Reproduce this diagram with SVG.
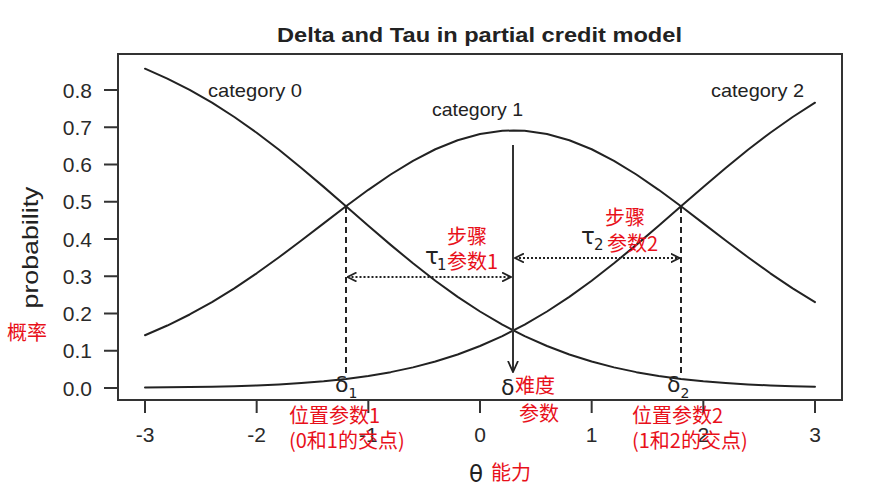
<svg xmlns="http://www.w3.org/2000/svg" width="889" height="500" viewBox="0 0 889 500">
<style>
  .lat{font-family:"Liberation Sans",Arial,sans-serif;fill:#222}
  .tick{font-family:"Liberation Sans",Arial,sans-serif;font-size:21px;fill:#2a2a2a}
  .red{font-family:"Noto Sans CJK SC","Noto Sans",sans-serif;font-size:20px;fill:#e8101a}
  .gr{font-family:"DejaVu Sans","Liberation Sans",sans-serif;fill:#222}
  .ax{stroke:#333;stroke-width:2;fill:none}
  .curve{stroke:#222;stroke-width:2;fill:none;stroke-linejoin:round;stroke-linecap:round}
  .dash{stroke:#222;stroke-width:2;stroke-dasharray:6,4;fill:none}
  .dot{stroke:#222;stroke-width:2;stroke-dasharray:2,2;fill:none}
</style>
<defs>
  <marker id="vhead" viewBox="0 0 10 10" refX="9" refY="5" markerWidth="10" markerHeight="10" markerUnits="userSpaceOnUse" orient="auto-start-reverse">
    <path d="M0,0.5 L9,5 L0,9.5" fill="none" stroke="#222" stroke-width="1.8"/>
  </marker>
  <marker id="bighead" viewBox="0 0 12 12" refX="11" refY="6" markerWidth="12" markerHeight="12" markerUnits="userSpaceOnUse" orient="auto">
    <path d="M0,1 L11,6 L0,11" fill="none" stroke="#222" stroke-width="1.8"/>
  </marker>
</defs>
<rect width="889" height="500" fill="#fff"/>

<text id="title" class="lat" x="479.5" y="41.5" font-size="21" font-weight="bold" text-anchor="middle" textLength="405" lengthAdjust="spacingAndGlyphs">Delta and Tau in partial credit model</text>

<g id="axes">
  <rect class="ax" x="118" y="54" width="724" height="346"/>
  <path class="ax" d="M104,388H118M104,350.75H118M104,313.5H118M104,276.25H118M104,239H118M104,201.75H118M104,164.5H118M104,127.25H118M104,90H118"/>
  <path class="ax" d="M145,400V413M256.67,400V413M368.33,400V413M480,400V413M591.67,400V413M703.33,400V413M815,400V413"/>
  <g class="tick" text-anchor="end">
    <text x="92" y="395.5">0.0</text>
    <text x="92" y="358.25">0.1</text>
    <text x="92" y="321">0.2</text>
    <text x="92" y="283.75">0.3</text>
    <text x="92" y="246.5">0.4</text>
    <text x="92" y="209.25">0.5</text>
    <text x="92" y="172">0.6</text>
    <text x="92" y="134.75">0.7</text>
    <text x="92" y="97.5">0.8</text>
  </g>
  <g class="tick" text-anchor="middle">
    <text x="145" y="442">-3</text>
    <text x="256.67" y="442">-2</text>
    <text x="368.33" y="442">-1</text>
    <text x="480" y="442">0</text>
    <text x="591.67" y="442">1</text>
    <text x="703.33" y="442">2</text>
    <text x="815" y="442">3</text>
  </g>
  <text id="ylabel" class="lat" x="0" y="0" font-size="22" text-anchor="middle" textLength="122" lengthAdjust="spacingAndGlyphs" transform="translate(38,247.5) rotate(-90)">probability</text>
</g>

<g id="curves">
  <polyline id="cat0" class="curve" points="145,68.71 167.33,78.59 189.67,89.91 212,102.71 234.33,117.01 256.67,132.76 279,149.8 301.33,167.93 323.67,186.88 346,206.28 368.33,225.74 390.67,244.87 413,263.31 435.33,280.72 457.67,296.84 480,311.5 502.33,324.59 524.67,336.08 547,346.01 569.33,354.46 591.67,361.55 614,367.39 636.33,372.14 658.67,375.95 681,378.95 703.33,381.29 725.67,383.08 748,384.43 770.33,385.43 792.67,386.17 815,386.71"/>
  <polyline id="cat1" class="curve" points="145,335.22 167.33,325.53 189.67,314.49 212,302.08 234.33,288.31 256.67,273.31 279,257.27 301.33,240.49 323.67,223.34 346,206.28 368.33,189.81 390.67,174.48 413,160.8 435.33,149.24 457.67,140.2 480,133.99 502.33,130.84 513.5,130.48 524.67,130.84 547,133.99 569.33,140.2 591.67,149.24 614,160.8 636.33,174.48 658.67,189.81 681,206.28 703.33,223.34 725.67,240.49 748,257.27 770.33,273.31 792.67,288.31 815,302.08"/>
  <polyline id="cat2" class="curve" points="145,387.56 167.33,387.37 189.67,387.1 212,386.71 234.33,386.17 256.67,385.43 279,384.43 301.33,383.08 323.67,381.29 346,378.95 368.33,375.95 390.67,372.14 413,367.39 435.33,361.55 457.67,354.46 480,346.01 502.33,336.08 524.67,324.59 547,311.5 569.33,296.84 591.67,280.72 614,263.31 636.33,244.87 658.67,225.74 681,206.28 703.33,186.88 725.67,167.93 748,149.8 770.33,132.76 792.67,117.01 815,102.71"/>
  <g class="lat" font-size="19">
    <text x="208" y="97" textLength="94" lengthAdjust="spacingAndGlyphs">category 0</text>
    <text x="432" y="116" textLength="91" lengthAdjust="spacingAndGlyphs">category 1</text>
    <text x="711" y="97" textLength="93" lengthAdjust="spacingAndGlyphs">category 2</text>
  </g>
</g>

<g id="connectors">
  <line class="dash" x1="346" y1="207" x2="346" y2="376"/>
  <line class="dash" x1="681" y1="207" x2="681" y2="376"/>
  <line x1="513" y1="145" x2="513" y2="372" stroke="#333" stroke-width="2" marker-end="url(#bighead)"/>
  <line class="dot" x1="347.5" y1="277" x2="511" y2="277" marker-start="url(#vhead)" marker-end="url(#vhead)"/>
  <line class="dot" x1="515" y1="258" x2="679.5" y2="258" marker-start="url(#vhead)" marker-end="url(#vhead)"/>
</g>

<g id="greek">
  <text class="gr" x="425" y="264" font-size="23">τ</text>
  <text class="gr" x="437" y="270" font-size="15">1</text>
  <text class="gr" x="581" y="244" font-size="23">τ</text>
  <text class="gr" x="594" y="250" font-size="15">2</text>
  <text class="gr" x="335" y="392" font-size="22">δ</text>
  <text class="gr" x="348.5" y="398" font-size="14">1</text>
  <text class="gr" x="667" y="392" font-size="22">δ</text>
  <text class="gr" x="680.5" y="398" font-size="14">2</text>
  <text class="gr" x="501" y="395" font-size="22">δ</text>
  <text class="gr" x="469" y="482" font-size="23">θ</text>
</g>

<g id="notes" class="red">
  <text x="7" y="340">概率</text>
  <text x="447" y="244">步骤</text>
  <text x="447" y="269">参数1</text>
  <text x="605" y="225">步骤</text>
  <text x="607" y="251">参数2</text>
  <text x="515" y="393">难度</text>
  <text x="519" y="421">参数</text>
  <text x="289" y="423">位置参数1</text>
  <text x="289" y="448">(0和1的交点)</text>
  <text x="632" y="423">位置参数2</text>
  <text x="632" y="448">(1和2的交点)</text>
  <text x="491" y="480">能力</text>
</g>
</svg>
